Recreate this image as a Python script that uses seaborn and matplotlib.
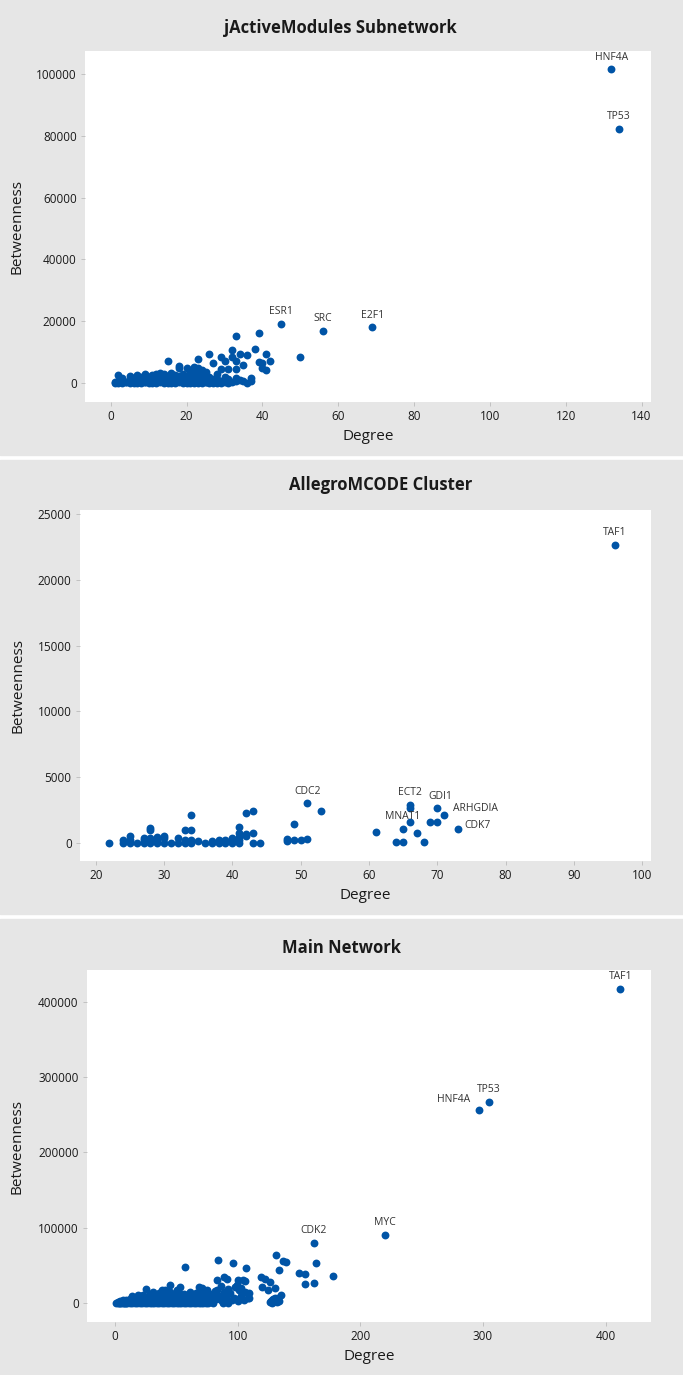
import pandas as pd
import matplotlib
matplotlib.use("Agg")
import matplotlib.pyplot as plt
import seaborn as sns
from matplotlib.patches import Rectangle

# --- jActiveModules Subnetwork ---
jam_deg = [1, 2, 3, 4, 5, 6, 7, 8, 9, 10,
           11, 12, 13, 14, 15, 16, 17, 18, 19, 20,
           21, 22, 23, 24, 25, 26, 27, 28, 29, 30,
           31, 32, 33, 36, 37,
           1, 2, 3, 4, 5, 6, 7, 8, 9, 10,
           11, 12, 13, 14, 15, 16, 17, 18, 19, 20,
           21, 22, 23, 24, 25, 26, 27, 28, 29, 31,
           34, 35, 37,
           2, 3, 5, 6, 7, 8, 9, 10, 11, 12,
           13, 14, 15, 16, 17, 18, 19, 20, 21, 22,
           23, 24, 25, 26, 28, 30, 33,
           9, 12, 13, 14, 16, 18, 19, 20, 21, 22,
           22, 23, 24, 24, 25, 29, 30, 31, 33, 35,
           15, 18, 22, 23, 23, 26, 27, 29, 30, 32,
           32, 33, 33, 34, 36, 38, 39, 39, 40, 40,
           41, 41, 42, 50]
jam_btw = [0, 100, 0, 200, 0, 100, 0, 0, 200, 0,
           100, 0, 200, 0, 100, 0, 0, 200, 0, 100,
           0, 0, 100, 0, 200, 0, 100, 0, 0, 300,
           0, 400, 600, 0, 650,
           300, 600, 800, 400, 900, 500, 1000, 600, 300, 700,
           1100, 500, 900, 400, 1000, 600, 1200, 800, 400, 1000,
           600, 300, 900, 700, 300, 500, 1300, 1300, 800, 1200,
           1000, 600, 1500,
           2500, 1500, 2200, 1600, 2500, 1800, 1200, 2000, 2600, 1500,
           2200, 1700, 2400, 1900, 2600, 2100, 1500, 2300, 1800, 1400,
           2000, 1600, 1200, 1800, 2800, 2000, 1700,
           2900, 3000, 3200, 2800, 3100, 4800, 2900, 4700, 3300, 2900,
           4200, 3500, 4200, 3000, 3700, 4400, 600, 4400, 4500, 5800,
           7200, 5600, 5100, 4700, 7900, 9400, 6400, 8400, 7000, 8500,
           10700, 15100, 7000, 9400, 9000, 10900, 16300, 6800, 6400, 4700,
           9500, 4200, 7000, 8500]
jam_names = ["ESR1", "SRC", "E2F1", "HNF4A", "TP53"]
jam_lab_deg = [45, 56, 69, 132, 134]
jam_lab_btw = [19100, 16800, 18000, 101500, 82200]

# --- AllegroMCODE Cluster ---
mcode_deg = [22, 24, 24, 25, 25, 25, 26, 27, 27, 27,
             28, 28, 28, 28, 28, 29, 29, 29, 30, 30,
             30, 31, 32, 32, 33, 33, 33, 34, 34, 34,
             34, 35, 36, 37, 37, 38, 38, 39, 39, 40,
             40, 40, 41, 41, 41, 41, 41, 42, 42, 42,
             43, 43, 43, 44, 48, 48, 49, 49, 50, 51,
             53, 61, 64, 65, 66, 66, 67, 68, 69, 70]
mcode_btw = [0, 200, 0, 560, 200, 0, 0, 380, 200, 0,
             1100, 950, 380, 200, 0, 450, 200, 0, 560, 380,
             0, 0, 380, 0, 1000, 200, 0, 2100, 1000, 200,
             0, 150, 0, 150, 0, 200, 0, 200, 0, 400,
             200, 0, 1200, 770, 440, 200, 0, 2300, 700, 520,
             2400, 770, 0, 0, 300, 150, 1450, 200, 200, 280,
             2400, 830, 100, 100, 2650, 1570, 760, 100, 1570, 1570]
mcode_names = ["CDC2", "ECT2", "GDI1", "ARHGDIA", "CDK7", "MNAT1", "TAF1"]
mcode_lab_deg = [51, 66, 70, 71, 73, 65, 96]
mcode_lab_btw = [3000, 2900, 2650, 2130, 1090, 1090, 22640]

# --- Main Network ---
main_deg = [1, 2, 3, 4, 5, 6, 7, 8, 9, 10,
            12, 14, 16, 18, 20, 22, 24, 26, 28, 30,
            32, 34, 36, 38, 40, 42, 44, 46, 48, 50,
            52, 54, 56, 58, 60, 62, 64, 66, 68, 70,
            72, 74, 76, 78, 80, 88, 92,
            2, 4, 6, 8, 10, 12, 14, 16, 18, 20,
            22, 24, 26, 28, 30, 32, 34, 36, 38, 40,
            42, 44, 46, 48, 50, 52, 54, 56, 58, 60,
            63, 66, 69, 72, 75, 78, 82, 86, 90, 95,
            100, 105,
            6, 9, 12, 15, 18, 21, 24, 27, 30, 33,
            36, 39, 42, 45, 48, 51, 54, 57, 60, 63,
            66, 69, 72, 76, 80, 85, 90, 97, 103, 108,
            14, 19, 23, 28, 32, 36, 40, 44, 48, 52,
            56, 60, 64, 68, 72, 77, 81, 86, 92, 99,
            106,
            25, 31, 38, 41, 45, 50, 53, 57, 61, 66,
            68, 71, 75, 76, 83, 83, 84, 89, 89, 91,
            94, 96, 98, 100, 101, 103, 104, 106, 107, 109,
            109, 102, 83, 35, 42, 30, 20, 45,
            119, 122, 126, 130, 120, 125, 131, 137, 139, 134,
            135, 126, 127, 128, 129, 130, 131, 132, 133, 134,
            128, 130, 150, 155, 155, 162, 164, 178]
main_btw = [0, 0, 200, 0, 300, 100, 0, 400, 0, 200,
            0, 300, 0, 500, 0, 200, 0, 400, 0, 300,
            0, 600, 0, 200, 0, 500, 0, 300, 0, 400,
            0, 200, 0, 600, 0, 300, 0, 500, 0, 200,
            0, 400, 0, 700, 300, 0, 500,
            1500, 2200, 2800, 3000, 2600, 3400, 2900, 3600, 3100, 3800,
            3300, 4000, 3500, 4200, 3700, 4400, 3900, 4600, 4100, 4800,
            4300, 5000, 4500, 5200, 4700, 5400, 4900, 5600, 5100, 5800,
            5300, 6000, 5500, 6200, 5700, 6400, 5000, 4000, 3500, 4500,
            3000, 4000,
            3500, 4500, 5500, 6500, 7000, 6000, 7500, 8500, 7000, 8000,
            9500, 8000, 9000, 10500, 9000, 8500, 10000, 9500, 11000, 9000,
            10500, 9500, 11500, 10000, 12000, 9000, 8000, 7000, 9500, 6500,
            9000, 10500, 11000, 12500, 10000, 13000, 12000, 14500, 12000, 13500,
            11500, 12500, 11000, 13500, 14000, 12500, 16000, 22000, 18000, 24000,
            15000,
            18600, 15100, 17300, 17300, 23900, 17300, 20800, 47500, 15100, 12800,
            21300, 19500, 17300, 10600, 30700, 17300, 57200, 34200, 15100, 31500,
            12800, 53200, 21300, 30700, 17300, 19500, 30700, 29000, 46100, 12800,
            6200, 6200, 6200, 11000, 13000, 10000, 9000, 14000,
            35000, 32000, 28400, 20400, 21300, 16900, 64200, 55900, 54200, 43900,
            10600, 1000, 3000, 0, 5000, 2000, 4000, 1000, 6000, 3000,
            4000, 6500, 39500, 38400, 24900, 26600, 52800, 36300]
main_names = ["CDK2", "MYC", "HNF4A", "TP53", "TAF1"]
main_lab_deg = [162, 220, 297, 305, 412]
main_lab_btw = [79400, 90800, 255800, 267300, 417600]

BLUE = "#0054A6"
BG = "#E6E6E6"

sns.set_theme(style="white")
plt.rcParams["font.family"] = ["Open Sans", "DejaVu Sans"]

W, H = 683, 1375
fig = plt.figure(figsize=(W / 100, H / 100), dpi=100)
fig.patch.set_facecolor("white")

# grey panel backgrounds (pixel rows top/bottom), kept behind the axes
for top, bot in [(0, 455), (460, 914), (919, 1375)]:
    fig.patches.append(Rectangle((0, 1 - bot / H), 1, (bot - top) / H,
                                 transform=fig.transFigure, color=BG,
                                 zorder=-10))

panels = [
    dict(title="jActiveModules Subnetwork", tx=340, ty=28,
         box=(85, 51, 651, 402), deg=jam_deg, btw=jam_btw,
         names=jam_names, ldeg=jam_lab_deg, lbtw=jam_lab_btw,
         xlim=(-6.8, 142.5), ylim=(-6150, 107400),
         xticks=range(0, 141, 20), yticks=range(0, 100001, 20000)),
    dict(title="AllegroMCODE Cluster", tx=381, ty=485,
         box=(80, 510, 651, 861), deg=mcode_deg, btw=mcode_btw,
         names=mcode_names, ldeg=mcode_lab_deg, lbtw=mcode_lab_btw,
         xlim=(17.7, 101.3), ylim=(-1370, 25300),
         xticks=range(20, 101, 10), yticks=range(0, 25001, 5000)),
    dict(title="Main Network", tx=341, ty=948,
         box=(87, 970, 651, 1322), deg=main_deg, btw=main_btw,
         names=main_names, ldeg=main_lab_deg, lbtw=main_lab_btw,
         xlim=(-23, 437), ylim=(-25300, 442500),
         xticks=range(0, 401, 100), yticks=range(0, 400001, 100000)),
]

# label placement (offset in points, alignment)
special = {
    ("AllegroMCODE Cluster", "ARHGDIA"): ((6.5, 4.5), "left"),
    ("AllegroMCODE Cluster", "CDK7"): ((5, 2), "left"),
    ("AllegroMCODE Cluster", "GDI1"): ((2, 8.6), "center"),
    ("Main Network", "HNF4A"): ((-7, 7.7), "right"),
}

for p in panels:
    l, t, r, b = p["box"]
    ax = fig.add_axes([l / W, 1 - b / H, (r - l) / W, (b - t) / H])
    ax.set_facecolor("white")
    df = pd.DataFrame({"Degree": p["deg"] + p["ldeg"],
                       "Betweenness": p["btw"] + p["lbtw"]})
    sns.scatterplot(data=df, x="Degree", y="Betweenness", ax=ax,
                    color=BLUE, s=32, linewidth=0, alpha=1)
    for name, x, y in zip(p["names"], p["ldeg"], p["lbtw"]):
        off, ha = special.get((p["title"], name), ((0, 8.8), "center"))
        ax.annotate(name, (x, y), xytext=off, textcoords="offset points",
                    ha=ha, va="center", fontsize=7.5, color="#333333")
    ax.set_xlim(*p["xlim"])
    ax.set_ylim(*p["ylim"])
    ax.set_xticks(list(p["xticks"]))
    ax.set_yticks(list(p["yticks"]))
    for s in ax.spines.values():
        s.set_visible(False)
    ax.tick_params(axis="both", which="major", length=3, width=0.6,
                   color="#BBBBBB", labelsize=8.5, labelcolor="#1A1A1A",
                   pad=3, left=True, bottom=True)
    ax.set_xlabel("Degree", fontsize=11, color="#1A1A1A")
    ax.set_ylabel("Betweenness", fontsize=11, color="#1A1A1A")
    ax.xaxis.set_label_coords(0.5, -0.077)
    ax.yaxis.set_label_coords((25 - l) / (r - l), 0.5)
    fig.text(p["tx"] / W, 1 - p["ty"] / H, p["title"], ha="center",
             va="center", fontsize=12, fontweight="bold", color="#1A1A1A")

fig.savefig("out.png", dpi=100, facecolor=fig.get_facecolor())
